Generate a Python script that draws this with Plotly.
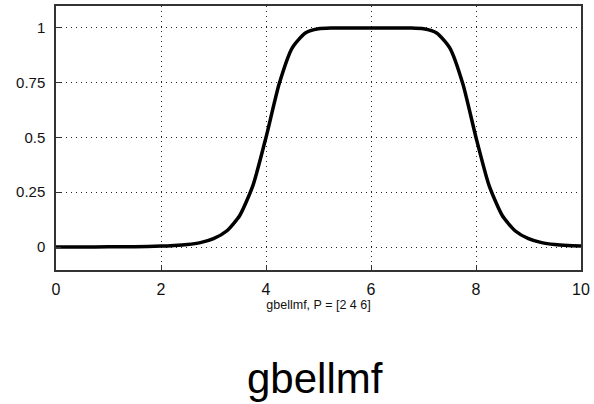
import plotly.graph_objects as go

x_vals = [0, 0.5, 1, 1.5, 2, 2.25, 2.5, 2.75, 3, 3.25, 3.5, 3.75, 4, 4.25, 4.5, 4.75,
          5, 5.25, 5.5, 6, 6.5, 6.75, 7, 7.25, 7.5, 7.75, 8, 8.25, 8.5, 8.75, 9,
          9.25, 9.5, 9.75, 10]
y_vals = [0.0002, 0.0003, 0.0007, 0.0015, 0.004, 0.0065, 0.011, 0.020, 0.038, 0.073,
          0.144, 0.280, 0.500, 0.744, 0.909, 0.977, 0.996, 0.9996, 1.0, 1.0, 1.0,
          0.9996, 0.996, 0.977, 0.909, 0.744, 0.500, 0.280, 0.144, 0.073, 0.038,
          0.020, 0.011, 0.0065, 0.004]
x_ticks = [0, 2, 4, 6, 8, 10]
y_ticks = [0, 0.25, 0.5, 0.75, 1]
y_tick_text = ["0", "0.25", "0.5", "0.75", "1"]
axis_title = "gbellmf, P = [2 4 6]"
caption = "gbellmf"

fig = go.Figure()
fig.add_trace(go.Scatter(x=x_vals, y=y_vals, mode="lines",
                         line=dict(color="black", width=3.5, shape="spline", smoothing=0.6),
                         showlegend=False, hoverinfo="skip"))

font = dict(family="Liberation Sans, Arial, sans-serif", color="#111", size=14)
fig.update_layout(
    width=594, height=404,
    margin=dict(l=56, r=13, t=6, b=134),
    plot_bgcolor="white", paper_bgcolor="white",
    font=font,
    xaxis=dict(range=[0, 10], tickvals=x_ticks, showgrid=True, gridcolor="#222",
               griddash="1px,4px", gridwidth=1.2, zeroline=False, showline=True,
               linecolor="#333", linewidth=1.5, mirror=True,
               ticks="inside", ticklen=5, tickcolor="#333", tickwidth=1.2,
               tickfont=dict(size=16), ticklabelstandoff=4, automargin=False,
               title=dict(text=axis_title, font=dict(size=12.5), standoff=2)),
    yaxis=dict(range=[-0.105, 1.1], tickvals=y_ticks, ticktext=y_tick_text,
               showgrid=True, gridcolor="#222", griddash="1px,4px", gridwidth=1.2,
               zeroline=False, showline=True, linecolor="#333", linewidth=1.5,
               mirror=True, ticks="inside", ticklen=5, tickcolor="#333", tickwidth=1.2,
               tickfont=dict(size=15), ticklabelstandoff=6, automargin=False),
    annotations=[dict(text=caption, x=0.493, y=-0.315, xref="paper", yref="paper",
                      xanchor="center", yanchor="top", showarrow=False,
                      font=dict(size=42, color="black",
                                family="Liberation Sans, Arial, sans-serif"))],
)
fig.write_html("out.html", config={"displayModeBar": False},
               post_script="document.body.style.margin='0';")
